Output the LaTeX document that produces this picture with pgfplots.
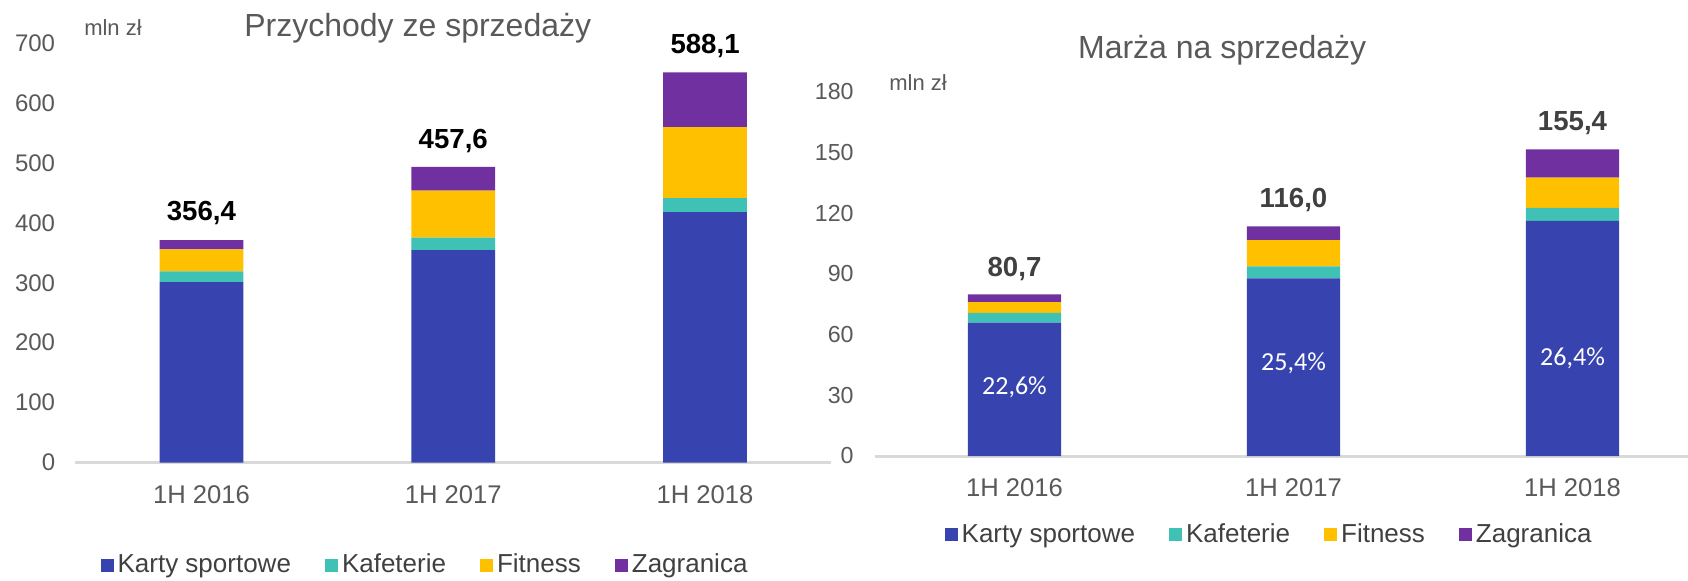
\documentclass[border=0pt]{standalone}
\usepackage{fontspec}
\setmainfont{Liberation Sans}
\newfontfamily\carlito{Carlito}
\usepackage{pgfplots}
\pgfplotsset{compat=1.18}
\definecolor{cKarty}{HTML}{3743AE}
\definecolor{cKaf}{HTML}{3FC2B5}
\definecolor{cFit}{HTML}{FFC000}
\definecolor{cZag}{HTML}{7030A0}
\definecolor{tgray}{HTML}{595959}
\definecolor{dgray}{HTML}{404040}
\definecolor{lgray}{HTML}{D9D9D9}
\pgfplotsset{
  sqlegend/.style={legend image code/.code={\fill[##1] (0pt,-3.25pt) rectangle (6.5pt,3.25pt);}},
  mybars/.style={
    ybar stacked, scale only axis, clip=false,
    axis x line*=bottom, axis y line*=left,
    y axis line style={draw=none},
    x axis line style={lgray, line width=1.5pt, -},
    major tick length=0pt,
    enlargelimits=false,
    xtick={0,1,2}, xticklabels={1H 2016,1H 2017,1H 2018},
    xmin=-0.5,
    /pgf/number format/assume math mode=true,
    yticklabel style={anchor=east, inner sep=0pt, text=tgray},
    xticklabel style={anchor=center, inner sep=0pt, text=tgray, font=\fontsize{12.8}{14}\selectfont},
    legend style={draw=none, fill=none, legend columns=4, anchor=center,
      font=\fontsize{13}{15}\selectfont, text=dgray,
      /tikz/every even column/.append style={column sep=15pt}},
  }
}
\begin{document}
\begin{tikzpicture}
\path[use as bounding box] (0,0) rectangle (844pt,290pt);
% Left chart
\begin{axis}[mybars,
  at={(37.75pt,58.75pt)}, anchor=south west,
  width=377.75pt, height=209.6pt,
  bar width=41.85pt,
  xmax=2.5, ymin=0, ymax=700,
  ytick={0,100,...,700},
  yticklabel style={xshift=-10pt, font=\fontsize{12}{14}\selectfont},
  xticklabel style={yshift=-16.25pt},
  legend style={at={(0.464,-0.2445)}},
]
\addplot[fill=cKarty, draw=none, sqlegend] coordinates {(0,301.4) (1,354.5) (2,418.0)};
\addplot[fill=cKaf, draw=none, sqlegend] coordinates {(0,17.9) (1,21.0) (2,23.6)};
\addplot[fill=cFit, draw=none, sqlegend] coordinates {(0,36.5) (1,78.5) (2,118.4)};
\addplot[fill=cZag, draw=none, sqlegend] coordinates {(0,15.4) (1,39.5) (2,91.6)};
\legend{Karty sportowe,Kafeterie,Fitness,Zagranica}
\node[font=\fontsize{16}{18}\selectfont, text=tgray] at (rel axis cs:0.453,1.0365) {Przychody ze sprzedaży};
\node[font=\fontsize{11}{13}\selectfont, text=tgray] at (rel axis cs:0.0496,1.0365) {mln zł};
\node[font=\bfseries\fontsize{13.8}{16}\selectfont] at (axis cs:0,416.6) {356,4};
\node[font=\bfseries\fontsize{13.8}{16}\selectfont] at (axis cs:1,536.9) {457,6};
\node[font=\bfseries\fontsize{13.8}{16}\selectfont] at (axis cs:2,695.5) {588,1};
\end{axis}
% Right chart
\begin{axis}[mybars,
  at={(437.5pt,62pt)}, anchor=south west,
  width=406.5pt, height=182pt,
  bar width=46.7pt,
  xmax=2.414, ymin=0, ymax=180,
  ytick={0,30,...,180},
  yticklabel style={xshift=-10.5pt, font=\fontsize{11.6}{14}\selectfont},
  xticklabel style={yshift=-16pt},
  legend style={at={(0.486,-0.217)}},
]
\addplot[fill=cKarty, draw=none, sqlegend] coordinates {(0,66.0) (1,87.8) (2,116.3)};
\addplot[fill=cKaf, draw=none, sqlegend] coordinates {(0,4.8) (1,6.0) (2,6.4)};
\addplot[fill=cFit, draw=none, sqlegend] coordinates {(0,5.3) (1,13.0) (2,15.0)};
\addplot[fill=cZag, draw=none, sqlegend] coordinates {(0,3.8) (1,6.8) (2,13.9)};
\legend{Karty sportowe,Kafeterie,Fitness,Zagranica}
\node[font=\fontsize{16}{18}\selectfont, text=tgray] at (rel axis cs:0.427,1.115) {Marża na sprzedaży};
\node[font=\fontsize{11}{13}\selectfont, text=tgray] at (rel axis cs:0.053,1.027) {mln zł};
\node[font=\bfseries\fontsize{13.8}{16}\selectfont, text=dgray] at (axis cs:0,92.5) {80,7};
\node[font=\bfseries\fontsize{13.8}{16}\selectfont, text=dgray] at (axis cs:1,126.6) {116,0};
\node[font=\bfseries\fontsize{13.8}{16}\selectfont, text=dgray] at (axis cs:2,164.7) {155,4};
\coordinate (pA) at (axis cs:0,34.1);
\coordinate (pB) at (axis cs:1,46.0);
\coordinate (pC) at (axis cs:2,48.5);
\end{axis}
\node[font=\carlito\fontsize{13}{15}\selectfont, text=white] at (pA) {22,6\%};
\node[font=\carlito\fontsize{13}{15}\selectfont, text=white] at (pB) {25,4\%};
\node[font=\carlito\fontsize{13}{15}\selectfont, text=white] at (pC) {26,4\%};
\end{tikzpicture}
\end{document}
